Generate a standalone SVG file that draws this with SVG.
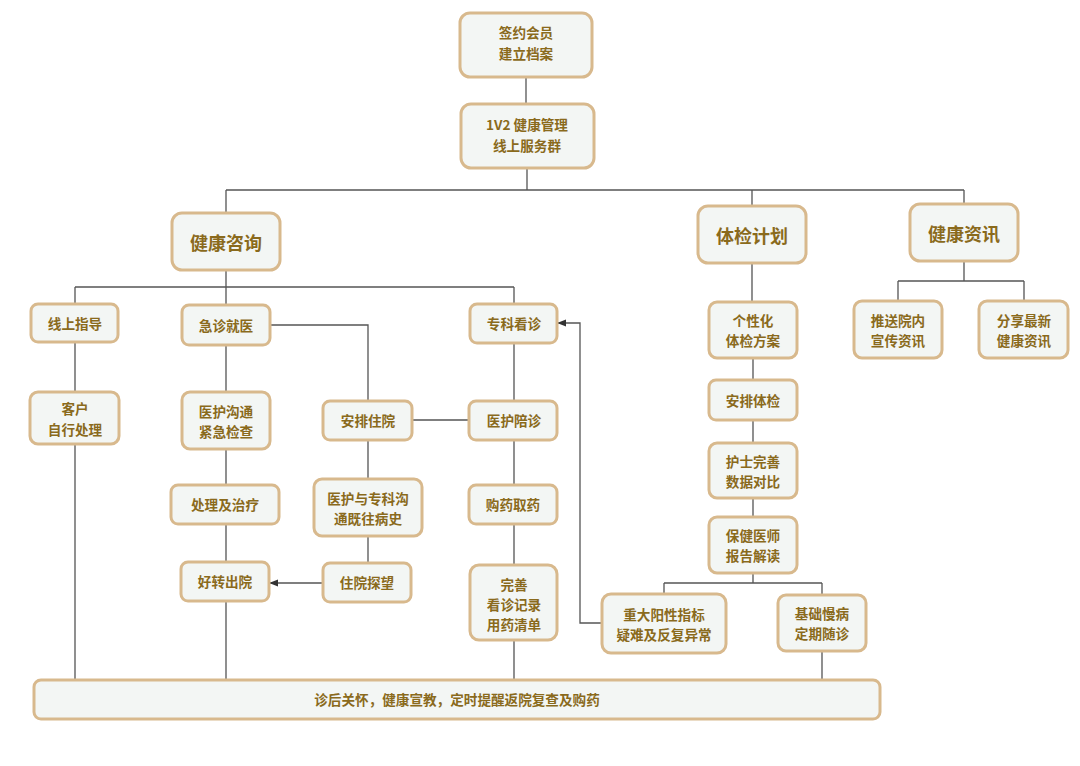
<svg xmlns="http://www.w3.org/2000/svg" width="1080" height="766" viewBox="0 0 1080 766">
<defs>
<style>
.b{fill:#f3f6f4;stroke:#d8b98d;stroke-width:3}
.t{font-family:"Noto Sans CJK SC","Noto Sans",sans-serif;font-size:13.6px;font-weight:bold;fill:#8a6a1c;text-anchor:middle;dominant-baseline:central}
.h{font-size:18px}
.c{fill:none;stroke:#555;stroke-width:1.3}
</style>
<marker id="ar" viewBox="0 0 10 10" refX="9" refY="5" markerWidth="7" markerHeight="7" orient="auto"><path d="M0,1 L10,5 L0,9 z" fill="#333"/></marker>
</defs>
<rect width="1080" height="766" fill="#fff"/>
<g id="connectors">
<path class="c" d="M526,77 V104"/>
<path class="c" d="M527,168 V190 M226,190 H964 M226,190 V213 M752,190 V206 M964,190 V204"/>
<path class="c" d="M226,270 V305 M75,287 H514 M75,287 V304 M514,287 V304"/>
<path class="c" d="M75,342 V392 M75,444 V680"/>
<path class="c" d="M226,345 V392 M226,449 V485 M226,524 V562 M226,601 V680"/>
<path class="c" d="M270,325 H368 V401 M368,440 V479 M368,536 V563"/>
<path class="c" d="M412,420 H469"/>
<path class="c" d="M514,343 V401 M514,440 V485 M514,524 V565 M514,640 V680"/>
<path class="c" d="M323,583 H270" marker-end="url(#ar)"/>
<path class="c" d="M602,623 H580 V323 H558" marker-end="url(#ar)"/>
<path class="c" d="M752,263 V302 M753,358 V380 M753,420 V443 M753,498 V517 M753,573 V583 M664,583 H822 M664,583 V594 M822,583 V595 M822,651 V680"/>
<path class="c" d="M964,261 V281 M898,281 H1024 M898,281 V301 M1024,281 V301"/>
</g>
<g id="n1"><rect class="b" x="460" y="13" width="132" height="64" rx="10"/><text class="t" x="526" y="32">签约会员</text><text class="t" x="526" y="53">建立档案</text></g>
<g id="n2"><rect class="b" x="461" y="104" width="133" height="64" rx="10"/><text class="t" x="527" y="124">1V2 健康管理</text><text class="t" x="527" y="145">线上服务群</text></g>
<g id="n3"><rect class="b" x="172" y="213" width="108" height="57" rx="10"/><text class="t h" x="226" y="242">健康咨询</text></g>
<g id="n4"><rect class="b" x="698" y="206" width="108" height="57" rx="10"/><text class="t h" x="752" y="235">体检计划</text></g>
<g id="n5"><rect class="b" x="910" y="204" width="108" height="57" rx="10"/><text class="t h" x="964" y="233">健康资讯</text></g>
<g id="n6"><rect class="b" x="31" y="304" width="87" height="38" rx="7"/><text class="t" x="75" y="323">线上指导</text></g>
<g id="n7"><rect class="b" x="182" y="305" width="88" height="40" rx="7"/><text class="t" x="226" y="325">急诊就医</text></g>
<g id="n8"><rect class="b" x="470" y="304" width="87" height="39" rx="7"/><text class="t" x="514" y="323">专科看诊</text></g>
<g id="n9"><rect class="b" x="30" y="392" width="89" height="52" rx="8"/><text class="t" x="75" y="408">客户</text><text class="t" x="75" y="429">自行处理</text></g>
<g id="n10"><rect class="b" x="182" y="392" width="88" height="57" rx="8"/><text class="t" x="226" y="411">医护沟通</text><text class="t" x="226" y="431">紧急检查</text></g>
<g id="n11"><rect class="b" x="323" y="401" width="89" height="39" rx="7"/><text class="t" x="368" y="420">安排住院</text></g>
<g id="n12"><rect class="b" x="469" y="401" width="88" height="39" rx="7"/><text class="t" x="514" y="420">医护陪诊</text></g>
<g id="n13"><rect class="b" x="171" y="485" width="108" height="39" rx="7"/><text class="t" x="225" y="504">处理及治疗</text></g>
<g id="n14"><rect class="b" x="314" y="479" width="108" height="57" rx="8"/><text class="t" x="368" y="498">医护与专科沟</text><text class="t" x="368" y="518">通既往病史</text></g>
<g id="n15"><rect class="b" x="469" y="485" width="88" height="39" rx="7"/><text class="t" x="513" y="504">购药取药</text></g>
<g id="n16"><rect class="b" x="181" y="562" width="88" height="39" rx="7"/><text class="t" x="225" y="581">好转出院</text></g>
<g id="n17"><rect class="b" x="323" y="563" width="88" height="39" rx="7"/><text class="t" x="367" y="582">住院探望</text></g>
<g id="n18"><rect class="b" x="470" y="565" width="87" height="75" rx="9"/><text class="t" x="514" y="584">完善</text><text class="t" x="514" y="604">看诊记录</text><text class="t" x="514" y="624">用药清单</text></g>
<g id="n19"><rect class="b" x="709" y="302" width="88" height="56" rx="8"/><text class="t" x="753" y="320">个性化</text><text class="t" x="753" y="340">体检方案</text></g>
<g id="n20"><rect class="b" x="709" y="380" width="88" height="40" rx="7"/><text class="t" x="753" y="400">安排体检</text></g>
<g id="n21"><rect class="b" x="709" y="443" width="88" height="55" rx="8"/><text class="t" x="753" y="461">护士完善</text><text class="t" x="753" y="481">数据对比</text></g>
<g id="n22"><rect class="b" x="709" y="517" width="88" height="56" rx="8"/><text class="t" x="753" y="535">保健医师</text><text class="t" x="753" y="555">报告解读</text></g>
<g id="n23"><rect class="b" x="602" y="594" width="124" height="59" rx="9"/><text class="t" x="664" y="614">重大阳性指标</text><text class="t" x="664" y="634">疑难及反复异常</text></g>
<g id="n24"><rect class="b" x="778" y="595" width="88" height="56" rx="8"/><text class="t" x="822" y="613">基础慢病</text><text class="t" x="822" y="633">定期随诊</text></g>
<g id="n25"><rect class="b" x="854" y="301" width="88" height="57" rx="8"/><text class="t" x="898" y="320">推送院内</text><text class="t" x="898" y="340">宣传资讯</text></g>
<g id="n26"><rect class="b" x="979" y="301" width="89" height="57" rx="8"/><text class="t" x="1024" y="320">分享最新</text><text class="t" x="1024" y="340">健康资讯</text></g>
<g id="n27"><rect class="b" x="34" y="680" width="846" height="39" rx="7"/><text class="t" x="457" y="699">诊后关怀，健康宣教，定时提醒返院复查及购药</text></g>
</svg>
